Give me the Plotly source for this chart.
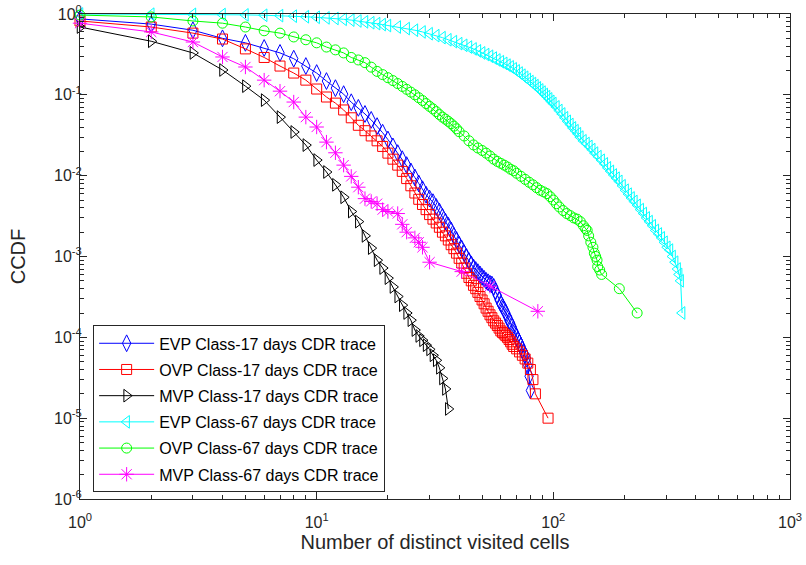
import plotly.graph_objects as go

# ---------------- data ----------------
evp17_x = list(range(1, 81))
evp17_y = [0.87, 0.75, 0.63, 0.50, 0.44, 0.38, 0.33, 0.28, 0.227, 0.186,
           0.148, 0.121, 0.102, 0.081, 0.069, 0.058, 0.049, 0.041, 0.034, 0.028,
           0.023, 0.019, 0.016, 0.0135, 0.0113, 0.0095, 0.0080, 0.0068, 0.0058, 0.0052,
           0.0047, 0.0041, 0.0036, 0.0031, 0.0027, 0.0024, 0.0021, 0.0018, 0.0016, 0.0014,
           0.00125, 0.0011, 0.00098, 0.00088, 0.0008, 0.00073, 0.00068, 0.00064, 0.0006, 0.00056,
           0.00053, 0.0005, 0.00048, 0.00046, 0.00045, 0.00042, 0.00037, 0.00033, 0.00029, 0.00026,
           0.00024, 0.00022, 0.0002, 0.00018, 0.00016, 0.00015, 0.000135, 0.00012, 0.00011, 0.0001,
           0.000092, 0.000085, 0.000078, 0.00007, 0.000064, 0.00006, 0.000055, 0.000045, 0.000033, 0.000022]

ovp17_x = list(range(1, 69)) + [70, 72, 74, 76, 78, 80, 82, 84, 95]
ovp17_y = [0.82, 0.69, 0.58, 0.49, 0.37, 0.29, 0.227, 0.186, 0.152, 0.118,
           0.094, 0.079, 0.065, 0.052, 0.042, 0.036, 0.031, 0.027, 0.023, 0.019,
           0.016, 0.0135, 0.0113, 0.0092, 0.0075, 0.0061, 0.0051, 0.0044, 0.0038, 0.0033,
           0.0029, 0.0026, 0.0023, 0.0020, 0.0018, 0.0016, 0.0014, 0.00125, 0.0011, 0.00095,
           0.00083, 0.00072, 0.00062, 0.00055, 0.0005, 0.00044, 0.0004, 0.00036, 0.00032, 0.00029,
           0.00026, 0.00023, 0.00021, 0.00019, 0.000175, 0.00016, 0.00015, 0.00014, 0.00013, 0.00012,
           0.000115, 0.00011, 0.000105, 0.0001, 0.000094, 0.000088, 0.000082, 0.000077,
           0.000072, 0.000066, 0.00006, 0.000054, 0.000048, 0.00004, 0.00003, 0.00002, 0.00001]

mvp17_x = list(range(1, 37))
mvp17_y = [0.69, 0.46, 0.33, 0.203, 0.128, 0.086, 0.053, 0.0347, 0.0239, 0.0156,
           0.0111, 0.0077, 0.0054, 0.0036, 0.0027, 0.0018, 0.00127, 0.0009, 0.00072, 0.00054,
           0.00042, 0.00032, 0.00025, 0.0002, 0.000163, 0.000123, 0.000104, 0.000092, 0.00008, 0.000071,
           0.00006, 0.000052, 0.000042, 0.000031, 0.000023, 0.000013]

evp67_x = list(range(1, 21)) + list(range(22, 101, 2)) + \
    [103, 106, 109, 112, 115, 118, 121, 124, 127, 130, 134, 138, 142, 146, 150,
     155, 160, 165, 170, 175, 180, 185, 190, 196, 202, 208, 214, 220, 227, 234,
     241, 248, 255, 263, 271, 279, 287, 295, 303, 311, 319, 327, 335, 340, 345, 350]
evp67_y = [1.0, 0.995, 0.99, 0.985, 0.975, 0.965, 0.955, 0.94, 0.925, 0.91,
           0.895, 0.88, 0.86, 0.84, 0.82, 0.80, 0.78, 0.76, 0.74, 0.72,
           0.69, 0.66, 0.63, 0.60, 0.57, 0.54, 0.51, 0.48, 0.455, 0.43,
           0.41, 0.39, 0.37, 0.35, 0.33, 0.315, 0.30, 0.285, 0.27, 0.257,
           0.245, 0.233, 0.222, 0.21, 0.198, 0.186, 0.175, 0.165, 0.155, 0.146,
           0.138, 0.13, 0.122, 0.115, 0.108, 0.101, 0.095, 0.089, 0.083, 0.078,
           0.071, 0.064, 0.058, 0.052, 0.047, 0.043, 0.039, 0.036, 0.033, 0.030,
           0.027, 0.025, 0.023, 0.021, 0.019, 0.0172, 0.0155, 0.014, 0.0125, 0.0113,
           0.0102, 0.0093, 0.0085, 0.0075, 0.0066, 0.0059, 0.0053, 0.0048, 0.0043, 0.0038,
           0.0034, 0.003, 0.0027, 0.0024, 0.0021, 0.0019, 0.0017, 0.0015, 0.0013, 0.0012,
           0.001, 0.00085, 0.0007, 0.0006, 0.0005, 0.0002]

ovp67_x = list(range(1, 41)) + list(range(42, 71, 2)) + \
    [73, 76, 79, 82, 85, 88, 91, 94, 97, 100, 103, 106, 110, 114, 118, 122, 126, 130,
     134, 137, 139, 141, 144, 147, 149, 151, 153, 154, 157, 160, 190, 226]
ovp67_y = [0.97, 0.92, 0.82, 0.77, 0.69, 0.62, 0.58, 0.52, 0.48, 0.44,
           0.39, 0.36, 0.33, 0.29, 0.27, 0.25, 0.22, 0.195, 0.178, 0.163,
           0.15, 0.138, 0.127, 0.117, 0.108, 0.1, 0.092, 0.085, 0.078, 0.072,
           0.067, 0.062, 0.057, 0.053, 0.05, 0.047, 0.044, 0.041, 0.038, 0.035,
           0.031, 0.027, 0.024, 0.022, 0.0205, 0.019, 0.0175, 0.016, 0.015, 0.0142,
           0.0135, 0.0128, 0.012, 0.0115, 0.0107,
           0.0098, 0.009, 0.0083, 0.0077, 0.0071, 0.0066, 0.0063, 0.006, 0.0055, 0.005,
           0.0045, 0.0041, 0.0037, 0.0034, 0.0032, 0.0030, 0.0029, 0.0027,
           0.0024, 0.0022, 0.0021, 0.0018, 0.0015, 0.0013, 0.0011, 0.001, 0.0009, 0.00075,
           0.00068, 0.0006, 0.0004, 0.0002]

mvp67_x = list(range(1, 21)) + [22, 23, 24, 26, 27, 28, 30, 41, 54, 86]
mvp67_y = [0.77, 0.60, 0.45, 0.294, 0.221, 0.152, 0.111, 0.0814, 0.053, 0.040,
           0.026, 0.0192, 0.0135, 0.0098, 0.0072, 0.0052, 0.0048, 0.0045, 0.0038, 0.0036,
           0.0034, 0.0025, 0.0020, 0.0017, 0.0015, 0.0013, 0.00085, 0.00065, 0.00043, 0.00021]

series_names = ["EVP Class-17 days CDR trace", "OVP Class-17 days CDR trace",
                "MVP Class-17 days CDR trace", "EVP Class-67 days CDR trace",
                "OVP Class-67 days CDR trace", "MVP Class-67 days CDR trace"]

x_tickvals = [1, 10, 100, 1000]
x_ticktext = ["10<sup>0</sup>", "10<sup>1</sup>", "10<sup>2</sup>", "10<sup>3</sup>"]
y_tickvals = [1e-6, 1e-5, 1e-4, 1e-3, 1e-2, 1e-1, 1]
y_ticktext = ["10<sup>-6</sup>", "10<sup>-5</sup>", "10<sup>-4</sup>", "10<sup>-3</sup>",
              "10<sup>-2</sup>", "10<sup>-1</sup>", "10<sup>0</sup>"]

# ---------------- styling ----------------
FONT = "Liberation Sans, Arial, Helvetica, sans-serif"
AX = "#262626"
styles = [
    ("#0000ff", "diamond-tall-open", 12),
    ("#ff0000", "square-open", 10),
    ("#000000", "triangle-right-open", 11),
    ("#00ffff", "triangle-left-open", 11),
    ("#00ff00", "circle-open", 10),
    ("#ff00ff", "asterisk-open", 12),
]
data = [(evp17_x, evp17_y), (ovp17_x, ovp17_y), (mvp17_x, mvp17_y),
        (evp67_x, evp67_y), (ovp67_x, ovp67_y), (mvp67_x, mvp67_y)]

fig = go.Figure()
for i, ((xs, ys), name, (col, sym, sz)) in enumerate(zip(data, series_names, styles)):
    fig.add_trace(go.Scatter(
        x=xs, y=ys, name=name, mode="lines+markers", legendgroup="g%d" % i,
        line=dict(color=col, width=1),
        marker=dict(symbol=sym, size=sz, color=col, line=dict(color=col, width=1)),
        cliponaxis=False,
    ))

minor_x = [m * 10 ** p for p in range(0, 3) for m in range(2, 10)]
minor_y = [m * 10.0 ** p for p in range(-6, 0) for m in range(2, 10)]

fig.update_layout(
    width=806, height=565,
    margin=dict(l=80, r=16, t=14, b=66, autoexpand=False),
    paper_bgcolor="white", plot_bgcolor="white",
    font=dict(family=FONT, size=16, color=AX),
    showlegend=True,
    legend=dict(
        x=0.0185, y=0.358, xanchor="left", yanchor="top",
        bgcolor="white", bordercolor=AX, borderwidth=1,
        font=dict(family=FONT, size=16, color="black"),
        itemwidth=55, tracegroupgap=2.4,
    ),
)
fig.update_xaxes(
    type="log", range=[0, 3], automargin=False,
    tickmode="array", tickvals=x_tickvals, ticktext=x_ticktext,
    ticks="inside", ticklen=7, tickwidth=1, tickcolor=AX,
    ticklabelstandoff=9,
    showline=True, linecolor=AX, linewidth=1, mirror="ticks",
    showgrid=False, zeroline=False,
    minor=dict(tickvals=minor_x, ticks="inside", ticklen=4, tickwidth=1, tickcolor=AX, showgrid=False),
    title=dict(text="Number of distinct visited cells", font=dict(size=20, color=AX), standoff=3),
    tickfont=dict(size=16, color=AX),
)
fig.update_yaxes(
    type="log", range=[-6, 0], automargin=False,
    tickmode="array", tickvals=y_tickvals, ticktext=y_ticktext,
    ticks="inside", ticklen=7, tickwidth=1, tickcolor=AX,
    ticklabelstandoff=-6,
    showline=True, linecolor=AX, linewidth=1, mirror="ticks",
    showgrid=False, zeroline=False,
    minor=dict(tickvals=minor_y, ticks="inside", ticklen=4, tickwidth=1, tickcolor=AX, showgrid=False),
    title=dict(text="CCDF", font=dict(size=20, color=AX), standoff=23),
    tickfont=dict(size=16, color=AX),
)

fig.write_html("out.html")
